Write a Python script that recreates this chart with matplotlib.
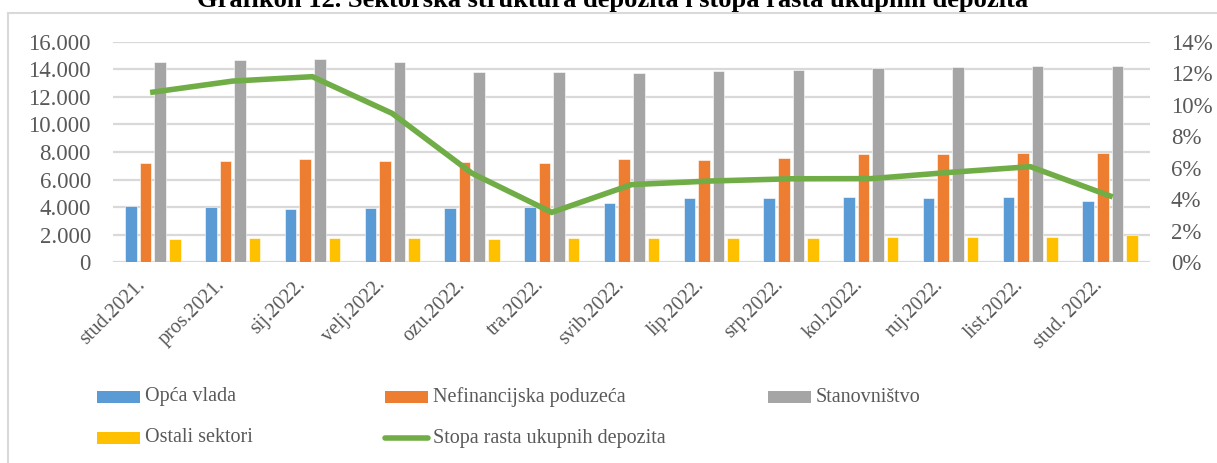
import matplotlib
matplotlib.use("Agg")
import matplotlib.pyplot as plt
import numpy as np
from matplotlib.ticker import FuncFormatter, MultipleLocator
from matplotlib.lines import Line2D
from matplotlib.patches import Rectangle
import matplotlib.transforms as mtransforms

categories = ["stud.2021.", "pros.2021.", "sij.2022.", "velj.2022.", "ozu.2022.",
              "tra.2022.", "svib.2022.", "lip.2022.", "srp.2022.", "kol.2022.",
              "ruj.2022.", "list.2022.", "stud. 2022."]
opca_vlada = [4080, 4010, 3870, 3920, 3960, 4030, 4300, 4640, 4640, 4760, 4690, 4760, 4470]
nefinancijska = [7200, 7330, 7510, 7350, 7280, 7180, 7490, 7420, 7570, 7830, 7830, 7950, 7950]
stanovnistvo = [14530, 14670, 14720, 14510, 13780, 13780, 13750, 13850, 13970, 14090, 14190, 14220, 14260]
ostali = [1690, 1760, 1760, 1760, 1690, 1780, 1780, 1780, 1780, 1810, 1860, 1860, 1960]
stopa_rasta = [10.8, 11.5, 11.78, 9.45, 5.65, 3.17, 4.93, 5.16, 5.3, 5.31, 5.71, 6.07, 4.21]

series_names = ["Opća vlada", "Nefinancijska poduzeća", "Stanovništvo", "Ostali sektori",
                "Stopa rasta ukupnih depozita"]
colors = ["#5B9BD5", "#ED7D31", "#A5A5A5", "#FFC000", "#70AD47"]
title = "Grafikon 12. Sektorska struktura depozita i stopa rasta ukupnih depozita"

W, H = 1217, 463
fig = plt.figure(figsize=(W / 100, H / 100), dpi=100)
plt.rcParams['font.family'] = ['Liberation Serif', 'DejaVu Serif']
txt_color = "#595959"
grid_color = "#D9D9D9"

def fx(px):
    return px / W
def fy(py):
    return 1 - py / H

ax = fig.add_axes([fx(113), fy(262.3), fx(1150) - fx(113), fy(41.7) - fy(262.3)])
ax2 = ax.twinx()
ax.set_zorder(ax2.get_zorder() - 1) if False else None

x = np.arange(len(categories))
step = 0.183
bw = 0.145
bar_series = [opca_vlada, nefinancijska, stanovnistvo, ostali]
for i, vals in enumerate(bar_series):
    ax.bar(x + (i - 1.5) * step, vals, width=bw, color=colors[i], zorder=3,
           edgecolor="white", linewidth=0.4)

ax.set_xlim(-0.5, len(categories) - 0.5)
ax.set_ylim(0, 16000)
ax.yaxis.set_major_locator(MultipleLocator(2000))
ax.yaxis.set_major_formatter(FuncFormatter(lambda v, p: f"{int(v):,}".replace(",", ".")))
ax.grid(axis="y", color=grid_color, linewidth=1.6, zorder=0)
ax.set_axisbelow(True)
for s in ax.spines.values():
    s.set_visible(False)
ax.tick_params(axis="y", length=0, pad=16, labelsize=16.5, labelcolor=txt_color)
ax.tick_params(axis="x", length=0, pad=0, labelsize=14.5, labelcolor=txt_color)
ax.set_xticks(x)
ax.set_xticklabels(categories, rotation=45, ha="right", va="center", rotation_mode="anchor")
offset = mtransforms.ScaledTranslation(-10 / 100, -20 / 100, fig.dpi_scale_trans)
for lab in ax.get_xticklabels():
    lab.set_transform(lab.get_transform() + offset)

ax2.plot(x, np.array(stopa_rasta) / 100, color=colors[4], linewidth=4, zorder=5,
         solid_joinstyle="miter")
ax2.set_ylim(0, 0.14)
ax2.yaxis.set_major_locator(MultipleLocator(0.02))
ax2.yaxis.set_major_formatter(FuncFormatter(lambda v, p: f"{v * 100:.0f}%"))
for s in ax2.spines.values():
    s.set_visible(False)
ax2.tick_params(axis="y", length=0, pad=15, labelsize=16.5, labelcolor=txt_color)

# outer frame (extends beyond the image on the right and bottom)
fig.add_artist(Line2D([fx(8), fx(8)], [fy(13), 0], color=grid_color, linewidth=1.5))
fig.add_artist(Line2D([fx(8), 1], [fy(13), fy(13)], color=grid_color, linewidth=1.5))

# title (clipped at the top)
t = fig.text(0.5, fy(6.5), title, ha="center", va="baseline", fontweight="bold",
             fontsize=16, color="black")
fig.canvas.draw()
r = fig.canvas.get_renderer()
wpx = t.get_window_extent(r).width
t.set_fontsize(16 * 835 / wpx)
t.set_x(fx(612.5))

# legend
entries = [(0, 97, 397), (1, 385, 397), (2, 768, 397), (3, 97, 438), (4, 385, 438)]
for idx, px, py in entries:
    if idx < 4:
        fig.add_artist(Rectangle((fx(px), fy(py + 6)), fx(43), fy(0) - fy(12),
                                 facecolor=colors[idx], edgecolor="none"))
    else:
        fig.add_artist(Line2D([fx(px), fx(px + 43)], [fy(py), fy(py)],
                              color=colors[idx], linewidth=4, solid_capstyle="round"))
    fig.text(fx(px + 48), fy(py), series_names[idx], ha="left", va="center",
             fontsize=14.5, color=txt_color)

fig.savefig("out.png", dpi=100)
